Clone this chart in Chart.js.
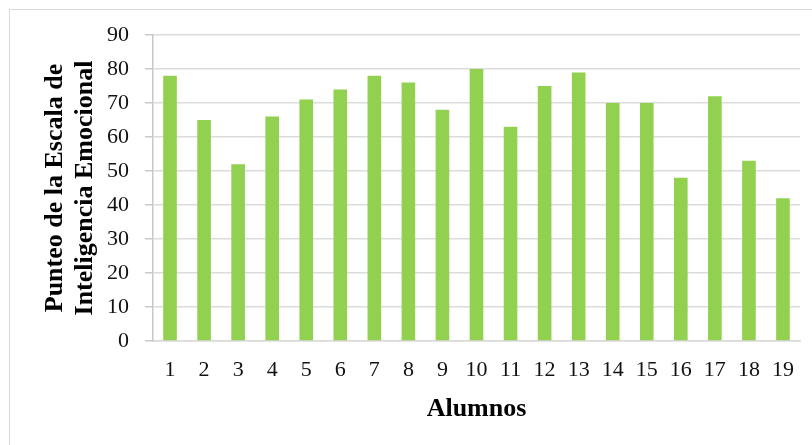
<!DOCTYPE html>
<html>
<head>
<meta charset="utf-8">
<script src="https://cdn.jsdelivr.net/npm/chart.js@4.4.1/dist/chart.umd.min.js"></script>
<style>
  html, body { margin: 0; padding: 0; background: #ffffff; }
  #wrap { position: relative; width: 812px; height: 445px; overflow: hidden; }
  #frame { position: absolute; left: 9px; top: 9px; right: -2px; bottom: -2px;
           border-top: 1px solid #d9d9d9; border-left: 1px solid #d9d9d9; }
  canvas { position: absolute; left: 0; top: 0; }
</style>
</head>
<body>
<div id="wrap">
  <div id="frame"></div>
  <canvas id="chart" width="812" height="445"></canvas>
</div>
<script>
// Students (1..19) and their emotional-intelligence scale scores
const alumnos = ['1','2','3','4','5','6','7','8','9','10','11','12','13','14','15','16','17','18','19'];
const punteos = [78, 65, 52, 66, 71, 74, 78, 76, 68, 80, 63, 75, 79, 70, 70, 48, 72, 53, 42];
const yTicks = [0, 10, 20, 30, 40, 50, 60, 70, 80, 90];
const yTitle = ['Punteo de la Escala de', 'Inteligencia Emocional'];
const xTitle = 'Alumnos';

const serif = "'Liberation Serif', 'Times New Roman', serif";

new Chart(document.getElementById('chart'), {
  type: 'bar',
  data: {
    labels: alumnos,
    datasets: [{
      data: punteos,
      backgroundColor: '#92d050',
      borderWidth: 0,
      categoryPercentage: 1.0,
      barPercentage: 0.4
    }]
  },
  options: {
    responsive: false,
    animation: false,
    devicePixelRatio: 1,
    layout: { padding: { left: 20, right: 12, top: 35, bottom: 0 } },
    plugins: { legend: { display: false }, tooltip: { enabled: false } },
    scales: {
      x: {
        grid: { display: false, drawTicks: false },
        border: { display: true, color: '#d9d9d9', width: 1.5 },
        ticks: { color: '#111', padding: 16, font: { family: serif, size: 22 }, maxRotation: 0 },
        title: {
          display: true, text: xTitle, color: '#000',
          font: { family: serif, size: 26, weight: 'bold', lineHeight: 1.15 },
          padding: { top: 0, bottom: 21 }
        },
        afterFit: (s) => { s.height = 104; }
      },
      y: {
        min: 0, max: 90,
        afterBuildTicks: (s) => { s.ticks = yTicks.map(v => ({ value: v })); },
        grid: { color: '#dcdcdc', lineWidth: 1.5, drawTicks: true, tickLength: 8, tickColor: '#c8c8c8' },
        border: { display: true, color: '#c8c8c8', width: 1.5 },
        ticks: { color: '#111', padding: 16, font: { family: serif, size: 22 } },
        title: {
          display: true, text: yTitle, color: '#000',
          font: { family: serif, size: 26, weight: 'bold', lineHeight: 1.15 },
          padding: { top: 20, bottom: 0 }
        },
        afterFit: (s) => { s.width = 133; }
      }
    }
  }
});
</script>
</body>
</html>
